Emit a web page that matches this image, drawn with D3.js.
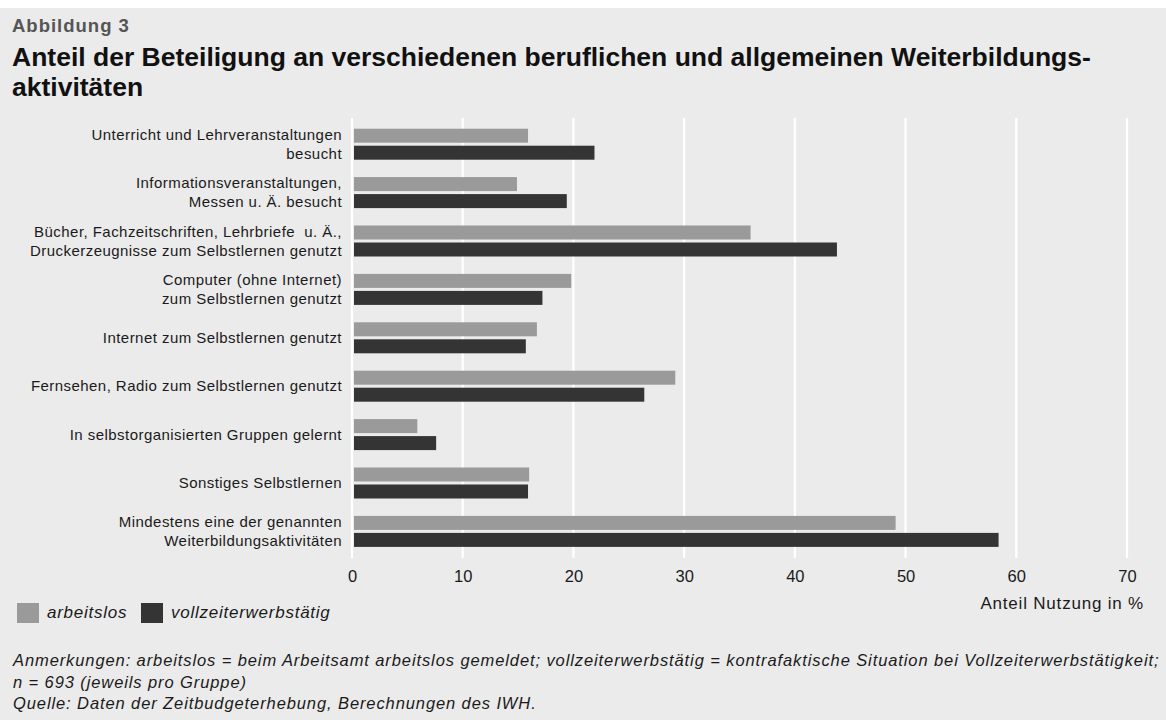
<!DOCTYPE html>
<html lang="de">
<head>
<meta charset="utf-8">
<title>Abbildung 3</title>
<script src="https://d3js.org/d3.v7.min.js"></script>
<style>
  body { margin: 0; background: #fff; }
  svg { font-family: "Liberation Sans", Arial, Helvetica, sans-serif; }
</style>
</head>
<body>
<script>
// Daten
var kategorien = [
  ["Unterricht und Lehrveranstaltungen", "besucht"],
  ["Informationsveranstaltungen,", "Messen u. Ä. besucht"],
  ["Bücher, Fachzeitschriften, Lehrbriefe\u00a0 u. Ä.,", "Druckerzeugnisse zum Selbstlernen genutzt"],
  ["Computer (ohne Internet)", "zum Selbstlernen genutzt"],
  ["Internet zum Selbstlernen genutzt"],
  ["Fernsehen, Radio zum Selbstlernen genutzt"],
  ["In selbstorganisierten Gruppen gelernt"],
  ["Sonstiges Selbstlernen"],
  ["Mindestens eine der genannten", "Weiterbildungsaktivitäten"]
];
var serien = ["arbeitslos", "vollzeiterwerbstätig"];
var arbeitslos = [15.9, 14.9, 36.0, 19.8, 16.7, 29.2, 5.9, 16.0, 49.1];
var vollzeit   = [21.9, 19.4, 43.8, 17.2, 15.7, 26.4, 7.6, 15.9, 58.4];
var xTicks = [0, 10, 20, 30, 40, 50, 60, 70];

var farben = {"arbeitslos": "#9a9a9a", "vollzeiterwerbstätig": "#343434"};

var W = 1166, H = 720;
var svg = d3.select("body").append("svg").attr("width", W).attr("height", H);

svg.append("rect").attr("x", 0).attr("y", 8).attr("width", W).attr("height", H - 8).attr("fill", "#ebebeb");

// Titel
svg.append("text").attr("x", 12).attr("y", 32).attr("font-size", 18.5).attr("font-weight", "bold")
  .attr("letter-spacing", 1).attr("fill", "#555").text("Abbildung 3");
svg.append("text").attr("x", 12).attr("y", 66).attr("font-size", 26.5).attr("font-weight", "bold")
  .attr("fill", "#111").text("Anteil der Beteiligung an verschiedenen beruflichen und allgemeinen Weiterbildungs-");
svg.append("text").attr("x", 12).attr("y", 96).attr("font-size", 26.5).attr("font-weight", "bold")
  .attr("fill", "#111").text("aktivitäten");

var x = d3.scaleLinear().domain([0, 70]).range([352, 1127]);
var idx = d3.range(kategorien.length);
var y = d3.scaleBand().domain(idx).range([120, 120 + 9 * 48.4]).padding(0);
var yInner = d3.scaleBand().domain(serien).range([-15.5, 15.5]).paddingInner(3 / 17);

// Gitter
svg.append("g").selectAll("line").data(xTicks).join("line")
  .attr("x1", d => x(d)).attr("x2", d => x(d))
  .attr("y1", 118).attr("y2", 558)
  .attr("stroke", "#fff").attr("stroke-width", 2.2);

// Balken
var rows = idx.map(i => ({i: i, werte: [arbeitslos[i], vollzeit[i]]}));
var gruppen = svg.append("g").selectAll("g").data(rows).join("g")
  .attr("transform", d => "translate(0," + (y(d.i) + y.bandwidth() / 2) + ")");
gruppen.selectAll("rect").data(d => serien.map((s, k) => ({s: s, v: d.werte[k]}))).join("rect")
  .attr("x", x(0) + 2)
  .attr("y", d => yInner(d.s))
  .attr("width", d => x(d.v) - x(0) - 2)
  .attr("height", yInner.bandwidth())
  .attr("fill", d => farben[d.s]);

// Kategorie-Beschriftung
var labels = svg.append("g").selectAll("text").data(rows).join("text")
  .attr("text-anchor", "end").attr("font-size", 15).attr("letter-spacing", 0.45).attr("fill", "#1a1a1a")
  .attr("transform", d => "translate(0," + (y(d.i) + y.bandwidth() / 2) + ")");
labels.selectAll("tspan").data(d => kategorien[d.i].map((t, k, a) => ({t: t, k: k, n: a.length}))).join("tspan")
  .attr("x", 342)
  .attr("y", d => d.n === 1 ? 5 : (d.k === 0 ? -4.5 : 14.5))
  .text(d => d.t);

// x-Achse
var xAxis = d3.axisBottom(x).tickValues(xTicks).tickSize(0).tickPadding(0);
var ax = svg.append("g").attr("transform", "translate(0,570)").call(xAxis);
ax.select(".domain").remove();
ax.selectAll("text").attr("font-size", 16.5).attr("fill", "#1a1a1a")
  .attr("font-family", "'Liberation Sans', Arial, sans-serif").attr("dy", "0.71em");
svg.append("text").attr("x", 1144).attr("y", 609).attr("text-anchor", "end")
  .attr("font-size", 17).attr("letter-spacing", 0.8).attr("fill", "#1a1a1a").text("Anteil Nutzung in %");

// Legende
var legX = [17, 141];
var leg = svg.append("g").selectAll("g").data(serien).join("g")
  .attr("transform", (d, i) => "translate(" + legX[i] + ",603)");
leg.append("rect").attr("width", 22).attr("height", 20).attr("fill", d => farben[d]);
leg.append("text").attr("x", 30).attr("y", 14.5).attr("font-size", 17).attr("letter-spacing", 0.75)
  .attr("font-style", "italic").attr("fill", "#1a1a1a").text(d => d);

// Anmerkungen
var notes = [
  "Anmerkungen: arbeitslos = beim Arbeitsamt arbeitslos gemeldet; vollzeiterwerbstätig = kontrafaktische Situation bei Vollzeiterwerbstätigkeit;",
  "n = 693 (jeweils pro Gruppe)",
  "Quelle: Daten der Zeitbudgeterhebung, Berechnungen des IWH."
];
svg.append("g").selectAll("text").data(notes).join("text")
  .attr("x", 13).attr("y", (d, i) => 666 + i * 21.5)
  .attr("font-size", 16.5).attr("letter-spacing", 0.9).attr("font-style", "italic").attr("fill", "#1a1a1a")
  .text(d => d);
</script>
</body>
</html>
